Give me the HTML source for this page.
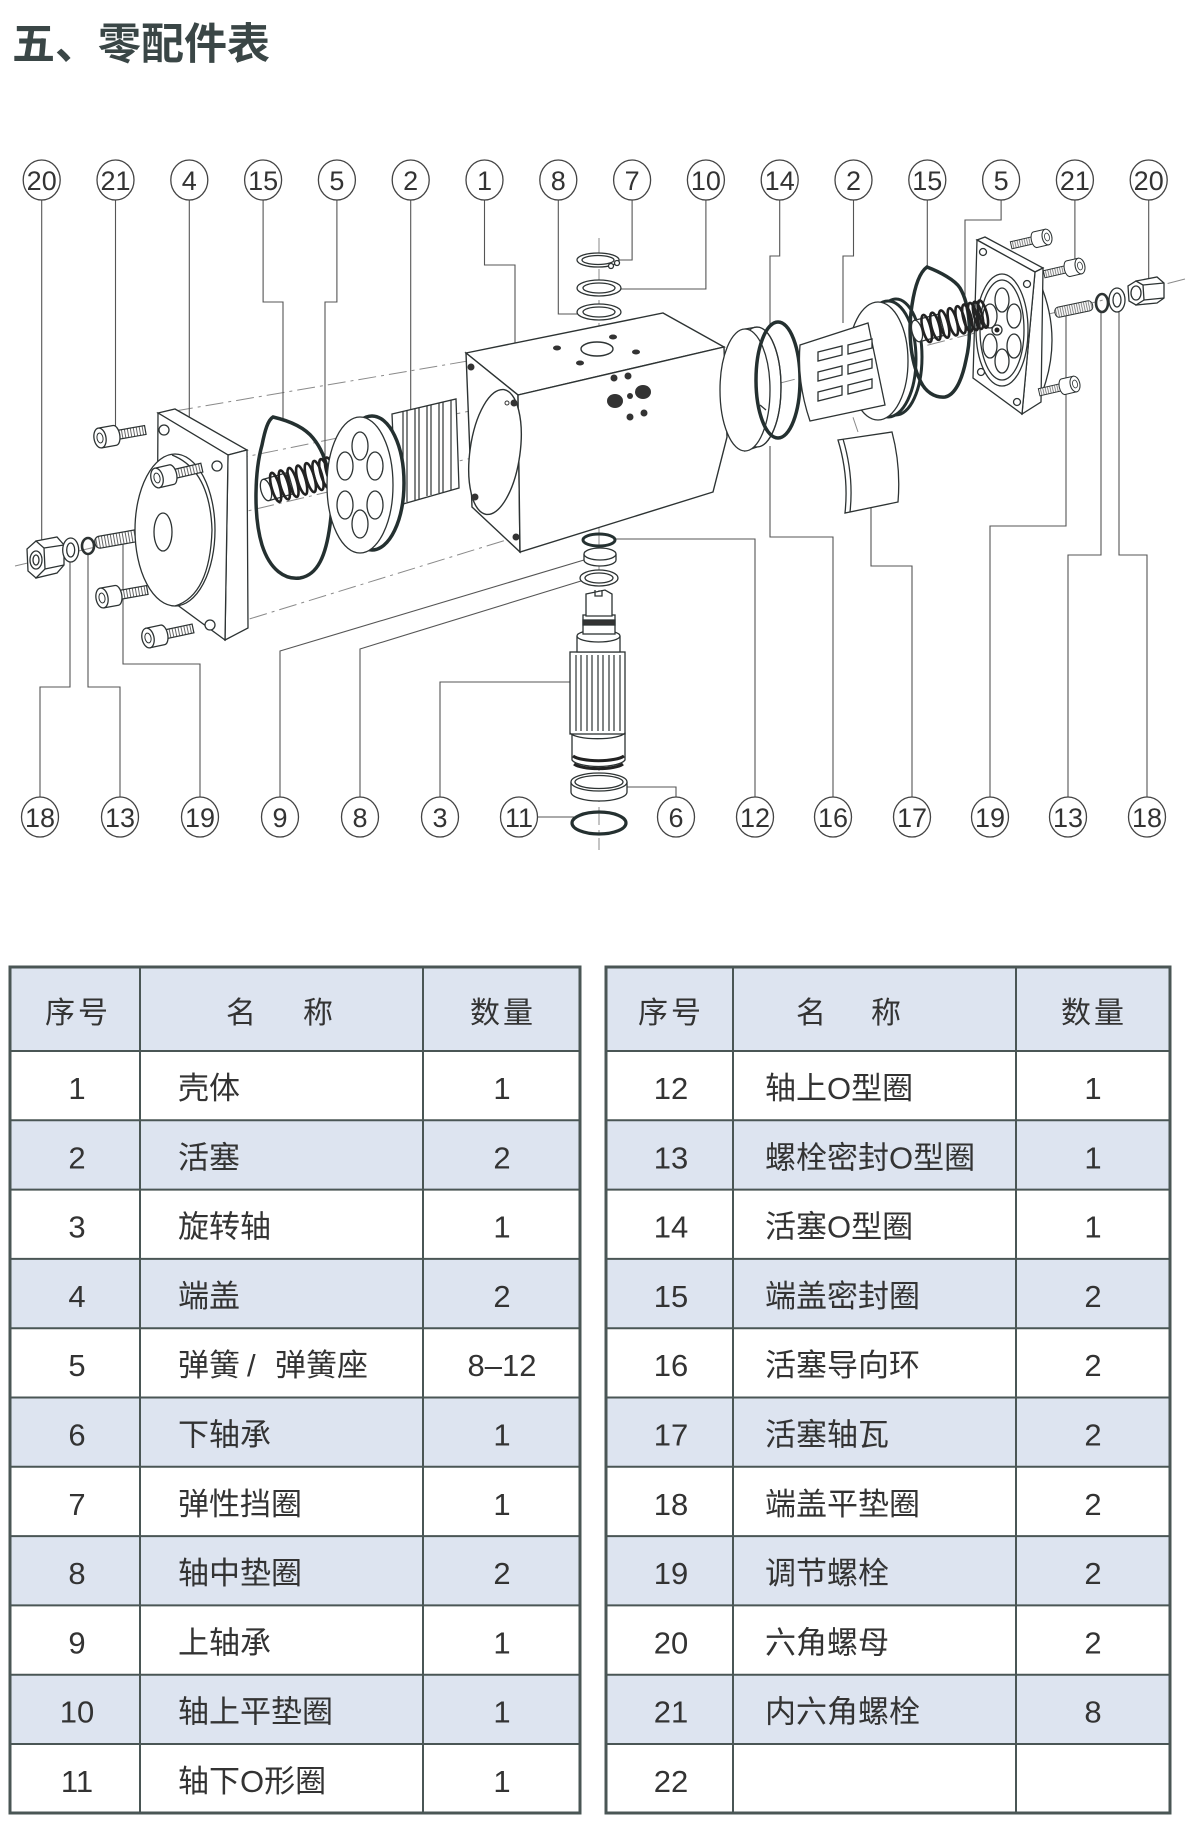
<!DOCTYPE html>
<html><head><meta charset="utf-8">
<style>
html,body{margin:0;padding:0;background:#fff;}
svg{display:block;}
text{font-family:"Liberation Sans","Noto Sans CJK SC",sans-serif;}
</style></head><body>
<svg xmlns="http://www.w3.org/2000/svg" width="1188" height="1825" viewBox="0 0 1188 1825">
<defs>
<pattern id="thr" width="3" height="20" patternUnits="userSpaceOnUse"><rect width="3" height="20" fill="#fff"/><line x1="1.5" y1="0" x2="1.5" y2="20" stroke="#666" stroke-width="1"/></pattern>
<g id="bolt">
 <rect x="15" y="-4.5" width="31" height="9" fill="url(#thr)" stroke="#2d3333" stroke-width="1.2"/>
 <path d="M0,-10 H15 A5,10 0 0 1 15,10 H0 Z" fill="#fff" stroke="#2d3333" stroke-width="1.3"/>
 <ellipse cx="0" cy="0" rx="6" ry="10" fill="#fff" stroke="#2d3333" stroke-width="1.3"/>
 <ellipse cx="0" cy="0" rx="3" ry="5" fill="none" stroke="#2d3333" stroke-width="1"/>
</g>
<g id="rod"><rect x="0" y="-6" width="48" height="12" rx="5" fill="url(#thr)" stroke="#2d3333" stroke-width="1.2"/></g>
</defs>

<rect width="1188" height="1825" fill="#fff"/>

<!-- Title -->
<text x="12" y="59" font-size="43" font-weight="700" fill="#3a4646">五、零配件表</text>

<!-- dashed axis lines -->
<g stroke="#8a8a8a" stroke-width="1" fill="none" stroke-dasharray="18 5 3 5">
 <path d="M175,411 L468,361"/>
 <path d="M230,460 L514,402"/>
 <path d="M15,566 L497,452"/>
 <path d="M220,628 L516,537"/>
 <path d="M1185,279 L722,398"/>
 <path d="M843,388 L858,432"/>
 <path d="M599,238 V330"/>
 <path d="M599,528 V850"/>
</g>

<!-- leader lines -->
<g stroke="#555" stroke-width="1.1" fill="none">
 <path d="M41.7,199 V544"/>
 <path d="M115.5,199 V426"/>
 <path d="M189.3,199 V417"/>
 <path d="M263.1,199 V302 H283 V421"/>
 <path d="M336.9,199 V302 H325 V463"/>
 <path d="M410.7,199 V410"/>
 <path d="M484.5,199 V265 H515 V357"/>
 <path d="M558.3,199 V314 H577"/>
 <path d="M632.1,199 V260 H619"/>
 <path d="M705.9,199 V289 H621"/>
 <path d="M779.7,199 V256 H770 V325"/>
 <path d="M853.5,199 V256 H843 V323"/>
 <path d="M927.3,199 V267"/>
 <path d="M1001.1,199 V220 H965 V307"/>
 <path d="M1074.9,199 V263"/>
 <path d="M1148.7,199 V279"/>
 <path d="M40,798 V687 H70 V562"/>
 <path d="M120,798 V687 H88 V554"/>
 <path d="M200,798 V664 H123 V544"/>
 <path d="M280,798 V651 L584,560"/>
 <path d="M360,798 V649 L581,581"/>
 <path d="M440,798 V682 H570"/>
 <path d="M537,817 H576"/>
 <path d="M676,798 V787 H627"/>
 <path d="M755,798 V539 H615"/>
 <path d="M833,798 V537 H770 V446"/>
 <path d="M912,798 V566 H871 V507"/>
 <path d="M990,798 V526 H1066 V316"/>
 <path d="M1068,798 V555 H1101 V312"/>
 <path d="M1147,798 V555 H1119 V312"/>
</g>

<!-- ===== LEFT SIDE PARTS ===== -->
<g stroke="#2d3333" stroke-width="1.3" fill="#fff">
 <path d="M36,541 L57,537 L64,545 L64,565 L57,573 L36,578 Z"/>
 <path d="M36,541 L44,548 L45,569 L36,578 L28,571 L27,549 Z"/>
 <line x1="44" y1="548" x2="64" y2="545"/><line x1="45" y1="569" x2="64" y2="565"/>
 <ellipse cx="36" cy="560" rx="6" ry="9"/><ellipse cx="36" cy="560" rx="3" ry="5"/>
 <ellipse cx="70.7" cy="550" rx="8" ry="12"/><ellipse cx="70.7" cy="550" rx="4" ry="7"/>
 <ellipse cx="88" cy="546" rx="6" ry="8" fill="none" stroke-width="2.6"/>
</g>
<use href="#rod" transform="translate(95,543) rotate(-10)"/>
<use href="#bolt" transform="translate(100,438) rotate(-10)"/>
<use href="#bolt" transform="translate(102,598) rotate(-10)"/>
<use href="#bolt" transform="translate(148,638) rotate(-12)"/>

<!-- end cap 4 -->
<g stroke="#2d3333" stroke-width="1.3" fill="#fff">
 <path d="M158,413 L175,409 L247,450 L228,455 Z"/>
 <path d="M228,455 L247,450 L248,628 L225,640 Z"/>
 <path d="M158,413 L228,455 L225,640 L157,590 Z"/>
 <ellipse cx="175" cy="530" rx="40" ry="76"/>
 <path d="M172,455 Q210,470 212,530 Q210,595 175,606" fill="none"/>
 <ellipse cx="163" cy="532" rx="9" ry="19"/>
 <circle cx="164" cy="430" r="5"/><circle cx="217" cy="466" r="5"/><circle cx="210" cy="625" r="5"/>
</g>
<use href="#bolt" transform="translate(157,478) rotate(-13)"/>

<!-- o-ring 15 left -->
<path d="M273,417 C290,421 305,428 313,438 C328,456 335,490 330,525 C326,555 318,575 300,578 C285,580 270,570 262,545 C253,515 255,470 262,445 C265,430 268,420 273,417 Z" fill="none" stroke="#243030" stroke-width="3.5"/>

<!-- spring 5 left -->
<g transform="translate(266,490) rotate(-15.6)" stroke="#2d3333" stroke-width="1.3" fill="#fff">
 <path d="M0,-11 H26 V11 H0"/>
 <ellipse cx="0" cy="0" rx="5" ry="11"/>
 <g fill="none" stroke="#222" stroke-width="2.6">
  <ellipse cx="10" cy="0" rx="4" ry="15"/><ellipse cx="19" cy="0" rx="4" ry="15"/><ellipse cx="28" cy="0" rx="4" ry="15"/>
  <ellipse cx="37" cy="0" rx="4" ry="15"/><ellipse cx="46" cy="0" rx="4" ry="15"/><ellipse cx="54" cy="0" rx="4" ry="15"/>
  <ellipse cx="61" cy="0" rx="4" ry="15"/><ellipse cx="67" cy="0" rx="4" ry="15"/><ellipse cx="72" cy="0" rx="4" ry="15"/><ellipse cx="77" cy="0" rx="4" ry="15"/>
 </g>
</g>

<!-- piston 2 left -->
<g stroke="#2d3333" stroke-width="1.3" fill="#fff">
 <path d="M392,414 L456,399 L459,488 L396,506 Z"/>
 <g fill="none" stroke-width="1.2">
  <path d="M403,412 V503"/><path d="M407,411 V502"/>
  <path d="M415,409 V500"/><path d="M419,408 V499"/>
  <path d="M427,406 V496"/><path d="M431,405 V495"/>
  <path d="M439,403 V493"/><path d="M443,402 V492"/>
  <path d="M451,400 V490"/>
 </g>
 <ellipse cx="372" cy="483" rx="32" ry="67" stroke="#243030" stroke-width="3.5"/>
 <ellipse cx="360" cy="485" rx="33" ry="68"/>
 <ellipse cx="360" cy="446" rx="8" ry="14"/><ellipse cx="375" cy="466" rx="8" ry="14"/>
 <ellipse cx="375" cy="505" rx="8" ry="14"/><ellipse cx="360" cy="524" rx="8" ry="14"/>
 <ellipse cx="345" cy="505" rx="8" ry="14"/><ellipse cx="345" cy="466" rx="8" ry="14"/>
</g>

<!-- ===== BODY 1 ===== -->
<g stroke="#2d3333" stroke-width="1.4" fill="#fff">
 <path d="M466,353 L663,313 L724,347 L518,395 Z"/>
 <path d="M466,353 L518,395 L520,552 L472,507 Z"/>
 <path d="M518,395 L724,347 L727,437 L713,492 L520,552 Z"/>
 <ellipse cx="495" cy="452" rx="25" ry="63" transform="rotate(8 495 452)"/>
 <ellipse cx="597" cy="349" rx="16" ry="7"/>
</g>
<g fill="#333">
 <circle cx="471" cy="367" r="3.5"/><circle cx="514" cy="403" r="3.5"/><circle cx="475" cy="497" r="3.5"/><circle cx="516" cy="537" r="3.5"/>
 <ellipse cx="557" cy="348" rx="4" ry="2.5"/><ellipse cx="613" cy="337" rx="4" ry="2.5"/><ellipse cx="636" cy="352" rx="4" ry="2.5"/><ellipse cx="580" cy="363" rx="4" ry="2.5"/>
 <circle cx="614" cy="378" r="3.5"/><circle cx="628" cy="376" r="3.5"/><circle cx="630" cy="396" r="3"/>
 <circle cx="630" cy="417" r="3.5"/><circle cx="644" cy="413" r="3.5"/>
 <ellipse cx="615" cy="401" rx="8" ry="7"/><ellipse cx="643" cy="392" rx="8" ry="7"/>
</g>
<circle cx="507" cy="403" r="2" fill="#fff" stroke="#333"/>

<!-- rings above body -->
<g stroke="#2d3333" stroke-width="1.3" fill="#fff">
 <ellipse cx="599" cy="312" rx="22" ry="8"/><ellipse cx="599" cy="312" rx="16" ry="5"/>
 <ellipse cx="599" cy="288" rx="22" ry="8"/><ellipse cx="599" cy="288" rx="16" ry="5"/>
 <ellipse cx="598" cy="260" rx="21" ry="7"/><ellipse cx="598" cy="260" rx="16" ry="4.5"/>
 <circle cx="617" cy="263" r="2.5"/><circle cx="611" cy="266" r="2.5"/>
</g>

<!-- rings + shaft below body -->
<g stroke="#2d3333" stroke-width="1.3" fill="#fff">
 <ellipse cx="599" cy="540" rx="16" ry="6" fill="none" stroke="#243030" stroke-width="3"/>
 <path d="M584,554 V560 A16,6 0 0 0 616,560 V554"/>
 <ellipse cx="600" cy="554" rx="16" ry="6"/>
 <ellipse cx="599" cy="578" rx="19" ry="8"/><ellipse cx="599" cy="578" rx="14" ry="5"/>
 <path d="M572,733 V760 A27,8 0 0 0 625,760 V733 Z"/>
 <path d="M573,756 A27,7 0 0 0 624,756" fill="none" stroke="#222" stroke-width="3"/>
 <path d="M574,764 A26,7 0 0 0 623,764" fill="none" stroke="#222" stroke-width="3"/>
 <rect x="570" y="652" width="55" height="82"/>
 <g fill="none" stroke-width="1.2">
  <path d="M576,655 V731"/><path d="M581,655 V731"/><path d="M587,655 V731"/><path d="M592,655 V731"/>
  <path d="M598,655 V731"/><path d="M603,655 V731"/><path d="M609,655 V731"/><path d="M614,655 V731"/><path d="M620,655 V731"/>
 </g>
 <path d="M570,733 A28,7 0 0 0 625,733" fill="none"/>
 <path d="M577,636 V652 H620 V636"/>
 <ellipse cx="598.5" cy="636" rx="21.5" ry="6"/>
 <rect x="583" y="615" width="32" height="19"/>
 <rect x="583" y="620" width="32" height="5" fill="#333"/>
 <path d="M586,594 L605,590 L612,594 L612,616 L586,616 Z"/>
 <path d="M595,590 V596 H602 V590" fill="none"/>
 <path d="M571,782 V792 A28,9 0 0 0 627,792 V782"/>
 <ellipse cx="599" cy="782" rx="28" ry="9"/><ellipse cx="599" cy="782" rx="24" ry="6.5" fill="none"/>
 <ellipse cx="599" cy="823" rx="27" ry="11" fill="none" stroke="#243030" stroke-width="3.2"/>
</g>

<!-- ===== RIGHT SIDE PARTS ===== -->
<g stroke="#2d3333" stroke-width="1.3" fill="#fff">
 <path d="M745,329 L757,327 A24,60 0 0 1 757,447 L745,451 Z"/>
 <ellipse cx="757" cy="387" rx="24" ry="60" fill="none"/>
 <ellipse cx="745" cy="390" rx="25" ry="61"/>
 <path d="M760,405 L766,410" fill="none"/>
</g>
<ellipse cx="778" cy="380" rx="22" ry="58" fill="none" stroke="#243030" stroke-width="3.5"/>

<g stroke="#2d3333" stroke-width="1.3" fill="#fff">
 <ellipse cx="896" cy="357" rx="26" ry="58" stroke="#243030" stroke-width="3"/>
 <ellipse cx="888" cy="359" rx="28" ry="58" stroke="#243030" stroke-width="3"/>
 <ellipse cx="878" cy="361" rx="30" ry="59"/>
 <path d="M800,345 L868,323 L885,405 L810,421 Q797,383 800,345 Z"/>
 <g fill="#fff">
  <path d="M818,352 L842,346 L842,355 L818,361 Z"/><path d="M848,345 L872,339 L872,348 L848,354 Z"/>
  <path d="M818,372 L842,366 L842,375 L818,381 Z"/><path d="M848,365 L872,359 L872,368 L848,374 Z"/>
  <path d="M818,392 L842,386 L842,395 L818,401 Z"/><path d="M848,385 L872,379 L872,388 L848,394 Z"/>
 </g>
 <path d="M838,440 Q849,476 845,513 L898,502 Q901,466 892,432 Z"/>
 <path d="M843,439 Q854,476 850,512" fill="none"/>
</g>

<path d="M927,267 C940,272 955,280 960,288 C970,305 972,335 966,360 C962,380 955,395 945,397 C935,398 925,392 920,380 C910,360 908,330 912,305 C915,285 920,272 927,267 Z" fill="none" stroke="#243030" stroke-width="3.5"/>

<g stroke="#2d3333" stroke-width="1.3" fill="#fff">
 <path d="M1040,283 Q1064,340 1040,398"/>
 <path d="M977,240 L985,237 L1043,268 L1035,272 Z"/>
 <path d="M1035,272 L1043,268 L1041,402 L1022,414 Z"/>
 <path d="M977,240 L1035,272 L1022,414 L973,378 Z"/>
 <ellipse cx="1002" cy="330" rx="26" ry="56"/>
 <ellipse cx="1002" cy="330" rx="22" ry="50" fill="none"/>
 <ellipse cx="1002" cy="300" rx="7" ry="12"/><ellipse cx="1014" cy="316" rx="7" ry="12"/>
 <ellipse cx="1014" cy="346" rx="7" ry="12"/><ellipse cx="1002" cy="361" rx="7" ry="12"/>
 <ellipse cx="990" cy="346" rx="7" ry="12"/><ellipse cx="990" cy="316" rx="7" ry="12"/>
 <circle cx="997" cy="330" r="5"/>
 <circle cx="983" cy="252" r="3.5"/><circle cx="1027" cy="284" r="3.5"/><circle cx="981" cy="372" r="3.5"/><circle cx="1017" cy="402" r="3.5"/>
</g>
<circle cx="997" cy="330" r="2.5" fill="#222"/>

<g transform="translate(917,331) rotate(-14.4)" stroke="#2d3333" stroke-width="1.3" fill="#fff">
 <path d="M0,-11 H26 V11 H0"/>
 <ellipse cx="0" cy="0" rx="5" ry="11"/>
 <g fill="none" stroke="#222" stroke-width="2.6">
  <ellipse cx="10" cy="0" rx="4" ry="14"/><ellipse cx="19" cy="0" rx="4" ry="14"/><ellipse cx="28" cy="0" rx="4" ry="14"/>
  <ellipse cx="37" cy="0" rx="4" ry="14"/><ellipse cx="45" cy="0" rx="4" ry="14"/><ellipse cx="52" cy="0" rx="4" ry="14"/>
  <ellipse cx="58" cy="0" rx="4" ry="14"/><ellipse cx="63" cy="0" rx="4" ry="14"/><ellipse cx="68" cy="0" rx="4" ry="14"/>
 </g>
</g>

<use href="#bolt" transform="translate(1047,237) rotate(-13) scale(-0.8,0.8)"/>
<use href="#bolt" transform="translate(1080,266) rotate(-13) scale(-0.8,0.8)"/>
<use href="#bolt" transform="translate(1075,384) rotate(-13) scale(-0.8,0.8)"/>
<use href="#rod" transform="translate(1055,313) rotate(-12) scale(0.8,0.85)"/>

<g stroke="#2d3333" stroke-width="1.3" fill="#fff">
 <ellipse cx="1102" cy="303" rx="6" ry="9" fill="none" stroke-width="2.6"/>
 <ellipse cx="1117" cy="300" rx="8" ry="12"/><ellipse cx="1117" cy="300" rx="4" ry="7"/>
 <path d="M1136,281 L1157,277 L1164,283 L1164,298 L1157,303 L1136,305 Z"/>
 <path d="M1136,281 L1143,285 L1144,300 L1136,305 L1129,301 L1128,286 Z"/>
 <line x1="1143" y1="285" x2="1164" y2="283"/><line x1="1144" y1="300" x2="1164" y2="298"/>
 <ellipse cx="1136" cy="293" rx="5" ry="7"/>
</g>

<!-- label circles -->
<g stroke="#444" stroke-width="1.3" fill="#fff">
 <ellipse cx="41.7" cy="180" rx="18.5" ry="20"/><ellipse cx="115.5" cy="180" rx="18.5" ry="20"/>
 <ellipse cx="189.3" cy="180" rx="18.5" ry="20"/><ellipse cx="263.1" cy="180" rx="18.5" ry="20"/>
 <ellipse cx="336.9" cy="180" rx="18.5" ry="20"/><ellipse cx="410.7" cy="180" rx="18.5" ry="20"/>
 <ellipse cx="484.5" cy="180" rx="18.5" ry="20"/><ellipse cx="558.3" cy="180" rx="18.5" ry="20"/>
 <ellipse cx="632.1" cy="180" rx="18.5" ry="20"/><ellipse cx="705.9" cy="180" rx="18.5" ry="20"/>
 <ellipse cx="779.7" cy="180" rx="18.5" ry="20"/><ellipse cx="853.5" cy="180" rx="18.5" ry="20"/>
 <ellipse cx="927.3" cy="180" rx="18.5" ry="20"/><ellipse cx="1001.1" cy="180" rx="18.5" ry="20"/>
 <ellipse cx="1074.9" cy="180" rx="18.5" ry="20"/><ellipse cx="1148.7" cy="180" rx="18.5" ry="20"/>
 <ellipse cx="40" cy="817" rx="18.5" ry="20"/><ellipse cx="120" cy="817" rx="18.5" ry="20"/>
 <ellipse cx="200" cy="817" rx="18.5" ry="20"/><ellipse cx="280" cy="817" rx="18.5" ry="20"/>
 <ellipse cx="360" cy="817" rx="18.5" ry="20"/><ellipse cx="440" cy="817" rx="18.5" ry="20"/>
 <ellipse cx="519" cy="817" rx="18.5" ry="20"/><ellipse cx="676" cy="817" rx="18.5" ry="20"/>
 <ellipse cx="755" cy="817" rx="18.5" ry="20"/><ellipse cx="833" cy="817" rx="18.5" ry="20"/>
 <ellipse cx="912" cy="817" rx="18.5" ry="20"/><ellipse cx="990" cy="817" rx="18.5" ry="20"/>
 <ellipse cx="1068" cy="817" rx="18.5" ry="20"/><ellipse cx="1147" cy="817" rx="18.5" ry="20"/>
</g>
<g font-size="27" fill="#333" text-anchor="middle">
 <text x="41.7" y="190">20</text><text x="115.5" y="190">21</text><text x="189.3" y="190">4</text><text x="263.1" y="190">15</text>
 <text x="336.9" y="190">5</text><text x="410.7" y="190">2</text><text x="484.5" y="190">1</text><text x="558.3" y="190">8</text>
 <text x="632.1" y="190">7</text><text x="705.9" y="190">10</text><text x="779.7" y="190">14</text><text x="853.5" y="190">2</text>
 <text x="927.3" y="190">15</text><text x="1001.1" y="190">5</text><text x="1074.9" y="190">21</text><text x="1148.7" y="190">20</text>
 <text x="40" y="827">18</text><text x="120" y="827">13</text><text x="200" y="827">19</text><text x="280" y="827">9</text>
 <text x="360" y="827">8</text><text x="440" y="827">3</text><text x="519" y="827">11</text><text x="676" y="827">6</text>
 <text x="755" y="827">12</text><text x="833" y="827">16</text><text x="912" y="827">17</text><text x="990" y="827">19</text>
 <text x="1068" y="827">13</text><text x="1147" y="827">18</text>
</g>

<!-- ===== TABLES ===== -->
<g fill="#dde4f0">
 <rect x="10" y="967" width="570" height="84"/>
 <rect x="10" y="1120.3" width="570" height="69.3"/>
 <rect x="10" y="1258.9" width="570" height="69.3"/>
 <rect x="10" y="1397.5" width="570" height="69.3"/>
 <rect x="10" y="1536.1" width="570" height="69.3"/>
 <rect x="10" y="1674.7" width="570" height="69.3"/>
 <rect x="606" y="967" width="564" height="84"/>
 <rect x="606" y="1120.3" width="564" height="69.3"/>
 <rect x="606" y="1258.9" width="564" height="69.3"/>
 <rect x="606" y="1397.5" width="564" height="69.3"/>
 <rect x="606" y="1536.1" width="564" height="69.3"/>
 <rect x="606" y="1674.7" width="564" height="69.3"/>
</g>
<g stroke="#4a5655" stroke-width="2" fill="none">
 <path d="M10,1051 H580 M10,1120.3 H580 M10,1189.6 H580 M10,1258.9 H580 M10,1328.2 H580 M10,1397.5 H580 M10,1466.8 H580 M10,1536.1 H580 M10,1605.4 H580 M10,1674.7 H580 M10,1744 H580"/>
 <path d="M140,967 V1813 M423,967 V1813"/>
 <path d="M606,1051 H1170 M606,1120.3 H1170 M606,1189.6 H1170 M606,1258.9 H1170 M606,1328.2 H1170 M606,1397.5 H1170 M606,1466.8 H1170 M606,1536.1 H1170 M606,1605.4 H1170 M606,1674.7 H1170 M606,1744 H1170"/>
 <path d="M733,967 V1813 M1016,967 V1813"/>
 <rect x="10" y="967" width="570" height="846" stroke-width="3"/>
 <rect x="606" y="967" width="564" height="846" stroke-width="3"/>
</g>

<g font-size="30" fill="#333" text-anchor="middle">
 <text x="78" y="1023" letter-spacing="3">序号</text>
 <text x="241" y="1023">名</text><text x="318" y="1023">称</text>
 <text x="503" y="1023" letter-spacing="3">数量</text>
 <text x="671" y="1023" letter-spacing="3">序号</text>
 <text x="811" y="1023">名</text><text x="886" y="1023">称</text>
 <text x="1094" y="1023" letter-spacing="3">数量</text>
</g>

<g font-size="31" fill="#333">
 <g text-anchor="middle">
  <text x="77" y="1099">1</text><text x="77" y="1168.3">2</text><text x="77" y="1237.6">3</text><text x="77" y="1306.9">4</text>
  <text x="77" y="1376.2">5</text><text x="77" y="1445.5">6</text><text x="77" y="1514.8">7</text><text x="77" y="1584.1">8</text>
  <text x="77" y="1653.4">9</text><text x="77" y="1722.7">10</text><text x="77" y="1792">11</text>
  <text x="502" y="1099">1</text><text x="502" y="1168.3">2</text><text x="502" y="1237.6">1</text><text x="502" y="1306.9">2</text>
  <text x="502" y="1376.2">8–12</text><text x="502" y="1445.5">1</text><text x="502" y="1514.8">1</text><text x="502" y="1584.1">2</text>
  <text x="502" y="1653.4">1</text><text x="502" y="1722.7">1</text><text x="502" y="1792">1</text>
 </g>
 <text x="178" y="1099">壳体</text>
 <text x="178" y="1168.3">活塞</text>
 <text x="178" y="1237.6">旋转轴</text>
 <text x="178" y="1306.9">端盖</text>
 <text x="178" y="1376.2">弹簧</text><text x="247" y="1376.2">/</text><text x="275" y="1376.2">弹簧座</text>
 <text x="178" y="1445.5">下轴承</text>
 <text x="178" y="1514.8">弹性挡圈</text>
 <text x="178" y="1584.1">轴中垫圈</text>
 <text x="178" y="1653.4">上轴承</text>
 <text x="178" y="1722.7">轴上平垫圈</text>
 <text x="178" y="1792">轴下O形圈</text>
</g>

<g font-size="31" fill="#333">
 <g text-anchor="middle">
  <text x="671" y="1099">12</text><text x="671" y="1168.3">13</text><text x="671" y="1237.6">14</text><text x="671" y="1306.9">15</text>
  <text x="671" y="1376.2">16</text><text x="671" y="1445.5">17</text><text x="671" y="1514.8">18</text><text x="671" y="1584.1">19</text>
  <text x="671" y="1653.4">20</text><text x="671" y="1722.7">21</text><text x="671" y="1792">22</text>
  <text x="1093" y="1099">1</text><text x="1093" y="1168.3">1</text><text x="1093" y="1237.6">1</text><text x="1093" y="1306.9">2</text>
  <text x="1093" y="1376.2">2</text><text x="1093" y="1445.5">2</text><text x="1093" y="1514.8">2</text><text x="1093" y="1584.1">2</text>
  <text x="1093" y="1653.4">2</text><text x="1093" y="1722.7">8</text>
 </g>
 <text x="765" y="1099">轴上O型圈</text>
 <text x="765" y="1168.3">螺栓密封O型圈</text>
 <text x="765" y="1237.6">活塞O型圈</text>
 <text x="765" y="1306.9">端盖密封圈</text>
 <text x="765" y="1376.2">活塞导向环</text>
 <text x="765" y="1445.5">活塞轴瓦</text>
 <text x="765" y="1514.8">端盖平垫圈</text>
 <text x="765" y="1584.1">调节螺栓</text>
 <text x="765" y="1653.4">六角螺母</text>
 <text x="765" y="1722.7">内六角螺栓</text>
</g>
</svg>
</body></html>
